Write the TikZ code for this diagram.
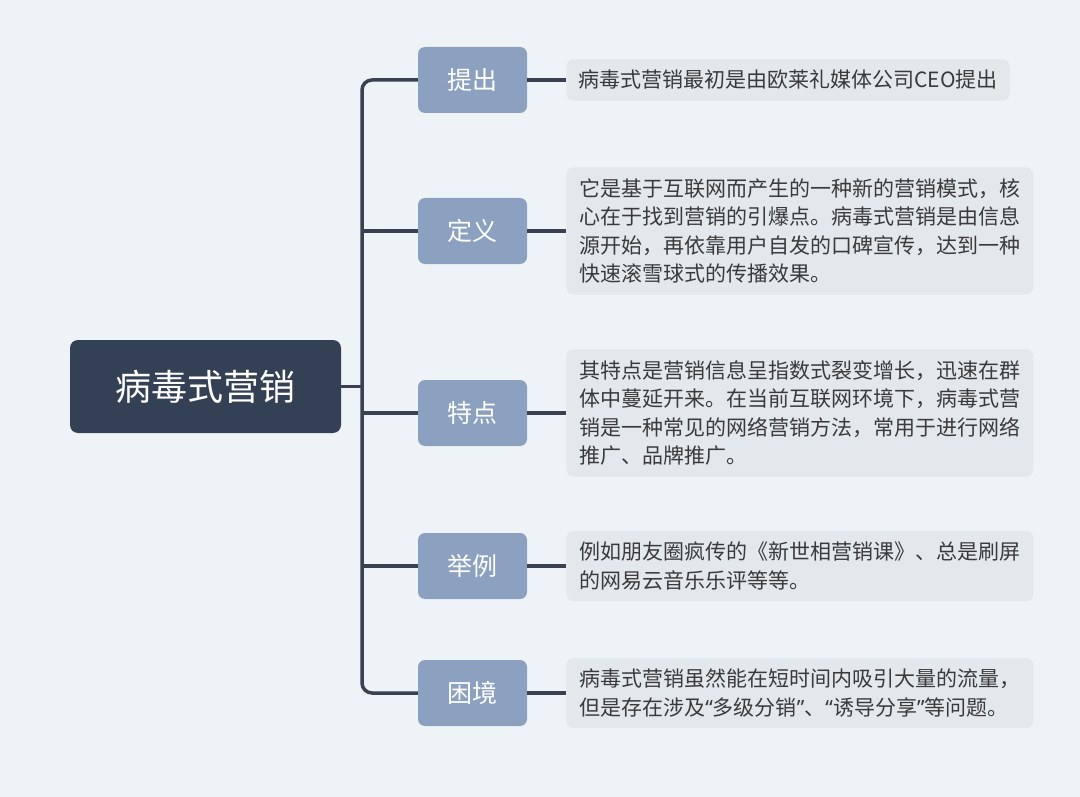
\documentclass[tikz,border=0pt]{standalone}
\usepackage{fontspec}
\newfontfamily\cjk{Noto Sans CJK SC}
\newfontfamily\latinq{Noto Sans}
\usepackage{tikz}
\usetikzlibrary{positioning}
\usepackage{xcolor}
\definecolor{bgcol}{HTML}{EEF3F7}
\definecolor{rootcol}{HTML}{344054}
\definecolor{topiccol}{HTML}{8CA0BF}
\definecolor{notecol}{HTML}{E3E8ED}
\definecolor{linecol}{HTML}{3A4251}
\definecolor{textcol}{HTML}{3A3A3A}
\tikzset{
rootbox/.style={rectangle,rounded corners=8pt,fill=rootcol,text=white,
  minimum width=271pt,minimum height=93pt,font=\cjk\fontsize{36}{40}\selectfont},
topicbox/.style={rectangle,rounded corners=7pt,fill=topiccol,text=white,
  minimum width=109pt,minimum height=66pt,font=\cjk\fontsize{25}{30}\selectfont},
notebox/.style={rectangle,rounded corners=7pt,fill=notecol,text=textcol,
  align=left,inner xsep=12pt,inner ysep=11pt,font=\cjk\fontsize{21}{28.5}\selectfont},
widenote/.style={notebox,minimum width=467pt},
linkline/.style={line width=3.5pt,draw=linecol}
}
\begin{document}
\begin{tikzpicture}[x=1pt,y=-1pt,node distance=39pt]
\fill[bgcol] (0,0) rectangle (1080,797);
\useasboundingbox (0,0) rectangle (1080,797);

\node[rootbox] (root) at (205.5,386.5) {病毒式营销};
\coordinate (trunk) at (362,386.5);

\node[topicbox] (propose) at (472.5,80) {提出};
\node[topicbox] (define) at (472.5,231) {定义};
\node[topicbox] (feature) at (472.5,413) {特点};
\node[topicbox] (example) at (472.5,566) {举例};
\node[topicbox] (dilemma) at (472.5,693) {困境};

\node[notebox,right=of propose] (proposeN) {病毒式营销最初是由欧莱礼媒体公司CEO提出};
\node[widenote,right=of define] (defineN) {它是基于互联网而产生的一种新的营销模式，核\\心在于找到营销的引爆点。病毒式营销是由信息\\源开始，再依靠用户自发的口碑宣传，达到一种\\快速滚雪球式的传播效果。};
\node[widenote,right=of feature] (featureN) {其特点是营销信息呈指数式裂变增长，迅速在群\\体中蔓延开来。在当前互联网环境下，病毒式营\\销是一种常见的网络营销方法，常用于进行网络\\推广、品牌推广。};
\node[widenote,right=of example] (exampleN) {例如朋友圈疯传的《新世相营销课》、总是刷屏\\的网易云音乐乐评等等。};
\node[widenote,right=of dilemma] (dilemmaN) {病毒式营销虽然能在短时间内吸引大量的流量，\\但是存在涉及{\latinq “}多级分销{\latinq ”}、{\latinq “}诱导分享{\latinq ”}等问题。};

\draw[linkline] (root) -- (trunk);
\draw[linkline,rounded corners=10pt] (propose.west) -| (trunk) |- (dilemma.west);
\draw[linkline] (define.west) -- (define.west -| trunk);
\draw[linkline] (feature.west) -- (feature.west -| trunk);
\draw[linkline] (example.west) -- (example.west -| trunk);
\draw[linkline] (propose) -- (proposeN);
\draw[linkline] (define) -- (defineN);
\draw[linkline] (feature) -- (featureN);
\draw[linkline] (example) -- (exampleN);
\draw[linkline] (dilemma) -- (dilemmaN);
\end{tikzpicture}
\end{document}
